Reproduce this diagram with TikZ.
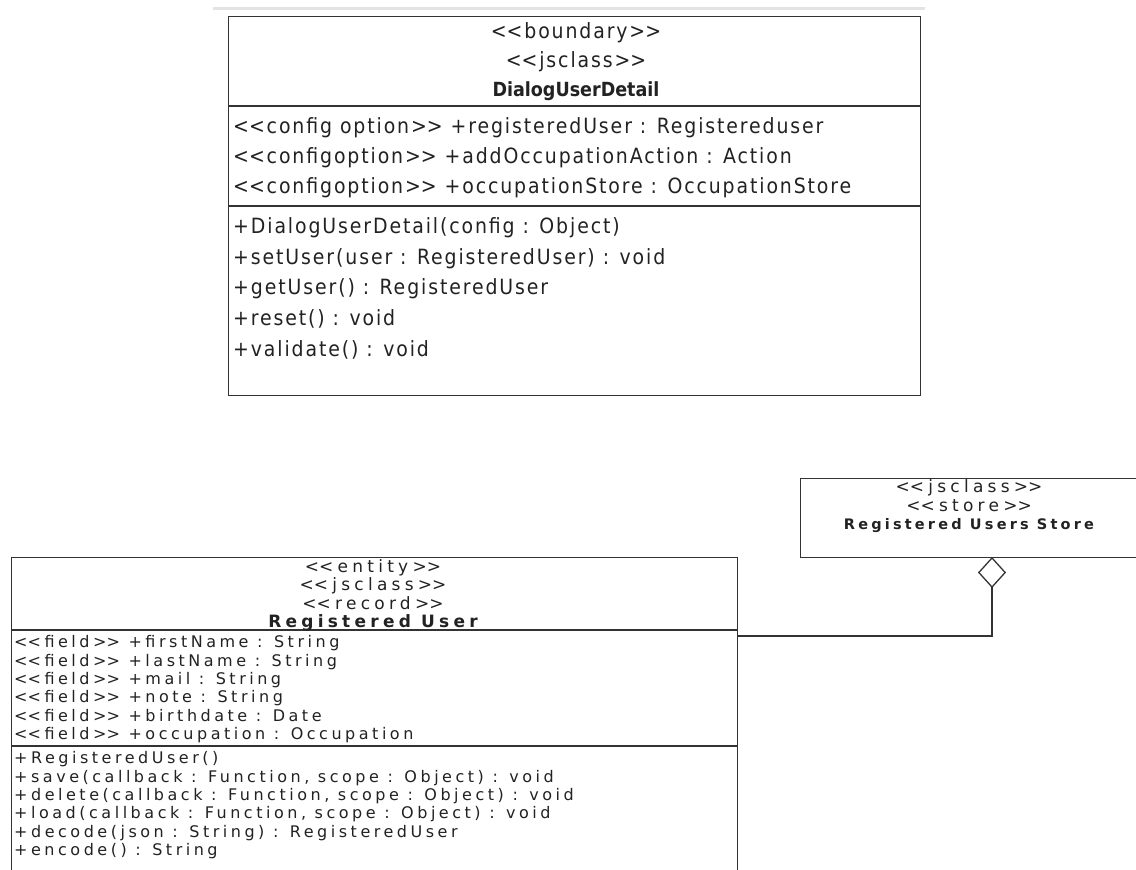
\documentclass[tikz,border=0pt]{standalone}
\usepackage{fontspec}
\usetikzlibrary{arrows.meta}
\newfontfamily\topfont[LetterSpace=9]{DejaVu Sans Condensed}
\newfontfamily\toptitle{DejaVu Sans Condensed}
\newfontfamily\umlfont[LetterSpace=22]{DejaVu Sans}
\newfontfamily\umlhead[LetterSpace=25]{DejaVu Sans}
% stereotype brackets, kept as two plain angle characters
\newcommand\stL{<\kern0pt<}
\newcommand\stR{>\kern0pt>}
\definecolor{ink}{HTML}{222222}
\definecolor{edge}{HTML}{333333}
\tikzset{
  classbox/.style={draw=edge, line width=1.4pt, fill=white, inner sep=0pt, anchor=north west},
  sep/.style={draw=edge, line width=1.4pt},
  bigrow/.style={anchor=base west, inner sep=0pt, text=ink, font=\topfont\fontsize{21}{25}\selectfont},
  bighead/.style={anchor=base, inner sep=0pt, text=ink, font=\topfont\fontsize{21}{25}\selectfont},
  smallrow/.style={anchor=base west, inner sep=0pt, text=ink, font=\umlfont\fontsize{16}{18}\selectfont},
  smallhead/.style={anchor=base, inner sep=0pt, text=ink, font=\umlhead\fontsize{17}{18}\selectfont},
  smalltitle/.style={anchor=base, inner sep=0pt, text=ink, font=\umlfont\bfseries\fontsize{14.5}{18}\selectfont},
  link/.style={draw=edge, line width=1.3pt},
}
\begin{document}
\begin{tikzpicture}[x=1pt,y=-1pt]
\useasboundingbox (0,0) rectangle (1136,870);

% faint rule above the dialog class
\draw[gray!22, line width=3pt] (213,8) -- (925,8);

% ---- DialogUserDetail ----
\node[classbox, minimum width=692pt, minimum height=379pt] (dud) at (228,16) {};
\draw[sep] (dud.west |- 0,106) -- (dud.east |- 0,106);
\draw[sep] (dud.west |- 0,206) -- (dud.east |- 0,206);
\node[bighead] (dudh1) at (576,38) {\stL boundary\stR};
\node[bighead] (dudh2) at (576,67) {\stL jsclass\stR};
\node[bighead, font=\toptitle\bfseries\fontsize{19.5}{25}\selectfont] (dudh3) at (576,96) {DialogUserDetail};
\node[bigrow] (duda1) at (233,133) {\stL config option\stR{} +registeredUser : Registereduser};
\node[bigrow] (duda2) at (233,163) {\stL configoption\stR{} +addOccupationAction : Action};
\node[bigrow] (duda3) at (233,193) {\stL configoption\stR{} +occupationStore : OccupationStore};
\node[bigrow] (dudm1) at (233,233) {+DialogUserDetail(config : Object)};
\node[bigrow] (dudm2) at (233,264) {+setUser(user : RegisteredUser) : void};
\node[bigrow] (dudm3) at (233,294) {+getUser() : RegisteredUser};
\node[bigrow] (dudm4) at (233,325) {+reset() : void};
\node[bigrow] (dudm5) at (233,356) {+validate() : void};

% ---- RegisteredUser ----
\node[classbox, line width=1.3pt, minimum width=726pt, minimum height=340pt] (ru) at (11,557) {};
\draw[sep, line width=1.3pt] (ru.west |- 0,630) -- (ru.east |- 0,630);
\draw[sep, line width=1.3pt] (ru.west |- 0,746) -- (ru.east |- 0,746);
\node[smallhead] (ruh1) at (373,572) {\stL entity\stR};
\node[smallhead] (ruh2) at (373,590.5) {\stL jsclass\stR};
\node[smallhead] (ruh3) at (373,609) {\stL record\stR};
\node[smalltitle, font=\umlfont\bfseries\fontsize{17}{18}\selectfont\addfontfeature{LetterSpace=25}] (ruh4) at (373,627.5) {Registered User};
\foreach \txt [count=\i from 0] in {
  {\stL field\stR{} +firstName : String},
  {\stL field\stR{} +lastName : String},
  {\stL field\stR{} +mail : String},
  {\stL field\stR{} +note : String},
  {\stL field\stR{} +birthdate : Date},
  {\stL field\stR{} +occupation : Occupation}}
  \node[smallrow] (rua\i) at (14,647.7+18.4*\i) {\txt};
\foreach \txt [count=\i from 0] in {
  {+RegisteredUser()},
  {+save(callback : Function, scope : Object) : void},
  {+delete(callback : Function, scope : Object) : void},
  {+load(callback : Function, scope : Object) : void},
  {+decode(json : String) : RegisteredUser},
  {+encode() : String}}
  \node[smallrow] (rum\i) at (14,763.7+18.4*\i) {\txt};

% ---- RegisteredUsersStore ----
\node[classbox, line width=1.3pt, minimum width=345pt, minimum height=79pt] (store) at (800,478) {};
\node[smallhead] (sth1) at (969,492.5) {\stL jsclass\stR};
\node[smallhead] (sth2) at (969,511) {\stL store\stR};
\node[smalltitle] (sth3) at (969,529.5) {Registered Users Store};

% aggregation: store holds registered users
\coordinate (aggtop) at (992,557);
\draw[link, -{Diamond[open, length=31pt, width=28pt, line width=1.3pt]}]
  (ru.east |- 0,636) -| (aggtop);
\end{tikzpicture}
\end{document}
